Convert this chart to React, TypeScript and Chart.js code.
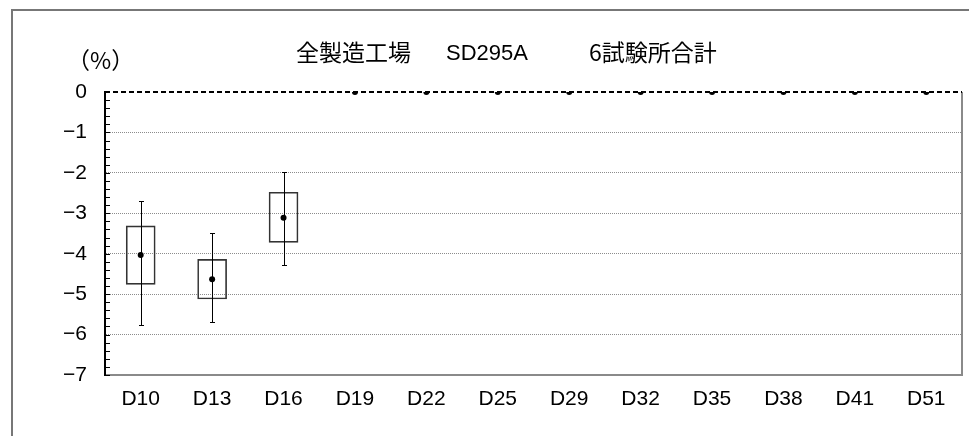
import React, { useEffect, useRef } from 'react';
import { Chart, registerables } from 'chart.js';

Chart.register(...registerables);

const categories = ['D10', 'D13', 'D16', 'D19', 'D22', 'D25', 'D29', 'D32', 'D35', 'D38', 'D41', 'D51'];
const means = [-4.03, -4.63, -3.11, 0, 0, 0, 0, 0, 0, 0, 0, 0];
const boxHigh: (number | null)[] = [-3.31, -4.14, -2.48, null, null, null, null, null, null, null, null, null];
const boxLow: (number | null)[] = [-4.76, -5.12, -3.72, null, null, null, null, null, null, null, null, null];
const whiskerHigh: (number | null)[] = [-2.7, -3.48, -1.99, null, null, null, null, null, null, null, null, null];
const whiskerLow: (number | null)[] = [-5.77, -5.68, -4.29, null, null, null, null, null, null, null, null, null];
const yMin = -7;
const yMax = 0;
const yStep = 1;
const yMinorStep = 0.2;
const titleParts = ['全製造工場', 'SD295A', '6試験所合計'];
const unitLabel = '（%）';

const LATIN = '"Liberation Sans", Arial, sans-serif';
const CJK = '"Noto Sans CJK JP", "Liberation Sans", sans-serif';

const decorPlugin = {
  id: 'decor',
  beforeDatasetsDraw(chart: any) {
    const { ctx, chartArea } = chart;
    const y = chart.scales.y;
    ctx.save();
    // right border of plot
    ctx.strokeStyle = '#8a8a8a';
    ctx.lineWidth = 2;
    ctx.beginPath();
    ctx.moveTo(chartArea.right, y.getPixelForValue(0));
    ctx.lineTo(chartArea.right, chartArea.bottom);
    ctx.stroke();
    // zero dashed line
    const y0 = Math.round(y.getPixelForValue(0));
    ctx.strokeStyle = '#000';
    ctx.lineWidth = 2;
    ctx.setLineDash([5, 3]);
    ctx.beginPath();
    ctx.moveTo(chartArea.left, y0);
    ctx.lineTo(chartArea.right, y0);
    ctx.stroke();
    ctx.setLineDash([]);
    // minor ticks
    ctx.strokeStyle = '#000';
    ctx.lineWidth = 1;
    const n = Math.round((yMax - yMin) / yMinorStep);
    for (let i = 0; i <= n; i++) {
      const v = yMin + i * yMinorStep;
      const py = Math.round(y.getPixelForValue(v)) + 0.5;
      ctx.beginPath();
      ctx.moveTo(chartArea.left, py);
      ctx.lineTo(chartArea.left + 5, py);
      ctx.stroke();
    }
    ctx.restore();
  },
  afterDatasetDraw(chart: any, args: any) {
    if (args.index !== 0) return;
    const { ctx } = chart;
    const x = chart.scales.x;
    const y = chart.scales.y;
    ctx.save();
    ctx.strokeStyle = '#000';
    ctx.lineWidth = 1;
    categories.forEach((_, i) => {
      const hi = whiskerHigh[i];
      const lo = whiskerLow[i];
      if (hi == null || lo == null) return;
      const px = Math.round(x.getPixelForValue(i)) + 0.5;
      const pyh = Math.round(y.getPixelForValue(hi)) + 0.5;
      const pyl = Math.round(y.getPixelForValue(lo)) + 0.5;
      ctx.beginPath();
      ctx.moveTo(px, pyh);
      ctx.lineTo(px, pyl);
      ctx.moveTo(px - 2.5, pyh);
      ctx.lineTo(px + 2.5, pyh);
      ctx.moveTo(px - 2.5, pyl);
      ctx.lineTo(px + 2.5, pyl);
      ctx.stroke();
    });
    ctx.restore();
  },
  afterDraw(chart: any) {
    const { ctx } = chart;
    ctx.save();
    // outer frame
    ctx.strokeStyle = '#777';
    ctx.lineWidth = 2;
    ctx.beginPath();
    ctx.moveTo(12, 436);
    ctx.lineTo(12, 10);
    ctx.lineTo(969, 10);
    ctx.stroke();
    // title
    ctx.fillStyle = '#000';
    ctx.textBaseline = 'middle';
    ctx.textAlign = 'left';
    ctx.font = `23px ${CJK}`;
    ctx.fillText(titleParts[0], 296, 52);
    ctx.font = `22px ${LATIN}`;
    ctx.fillText(titleParts[1], 446, 54);
    ctx.font = `23px ${CJK}`;
    ctx.fillText(titleParts[2], 589, 52);
    // unit
    ctx.font = `23px ${CJK}`;
    ctx.fillText(unitLabel, 67, 60);
    ctx.restore();
  },
};

export default function App() {
  const ref = useRef<HTMLCanvasElement>(null);
  useEffect(() => {
    if (!ref.current) return;
    const chart = new Chart(ref.current, {
      type: 'bar',
      data: {
        labels: categories,
        datasets: [
          {
            type: 'bar',
            data: categories.map((_, i) =>
              boxHigh[i] == null || boxLow[i] == null ? null : [boxLow[i], boxHigh[i]]
            ) as any,
            backgroundColor: 'rgba(255,255,255,0)',
            borderColor: '#333',
            borderWidth: 1,
            borderSkipped: false,
            barThickness: 29,
            grouped: false,
            order: 2,
          } as any,
          {
            type: 'line',
            data: means,
            showLine: false,
            pointRadius: 3,
            pointBackgroundColor: '#000',
            pointBorderColor: '#000',
            pointBorderWidth: 0,
            borderColor: '#000',
            order: 1,
          } as any,
        ],
      },
      options: {
        responsive: false,
        animation: false,
        events: [],
        layout: { padding: { left: 0, right: 7, top: 92, bottom: 0 } },
        plugins: {
          legend: { display: false },
          title: { display: false },
          tooltip: { enabled: false },
        },
        scales: {
          x: {
            type: 'category',
            offset: true,
            grid: { display: false, drawTicks: false },
            border: { display: true, color: '#8a8a8a', width: 2 },
            ticks: { font: { size: 21, family: LATIN }, color: '#000', padding: 12, maxRotation: 0 },
            afterFit: (axis: any) => {
              axis.height = 61;
            },
          },
          y: {
            min: yMin,
            max: yMax,
            grid: {
              drawTicks: false,
              color: (c: any) => (c.tick && c.tick.value === 0 ? 'rgba(0,0,0,0)' : '#8c8c8c'),
              lineWidth: 1,
            },
            border: { display: true, color: '#000', width: 2, dash: [1, 1] },
            ticks: {
              stepSize: yStep,
              font: { size: 21, family: LATIN },
              color: '#000',
              padding: 18,
              callback: (v: any) => (Number(v) < 0 ? '\u2212' + Math.abs(Number(v)) : String(v)),
            },
            afterFit: (axis: any) => {
              axis.width = 105;
            },
          },
        },
      },
      plugins: [decorPlugin],
    });
    return () => chart.destroy();
  }, []);
  return (
    <div style={{ position: 'absolute', left: 0, top: 0, width: 969, height: 436, background: '#fff' }}>
      <canvas ref={ref} width={969} height={436} style={{ display: 'block' }} />
    </div>
  );
}
